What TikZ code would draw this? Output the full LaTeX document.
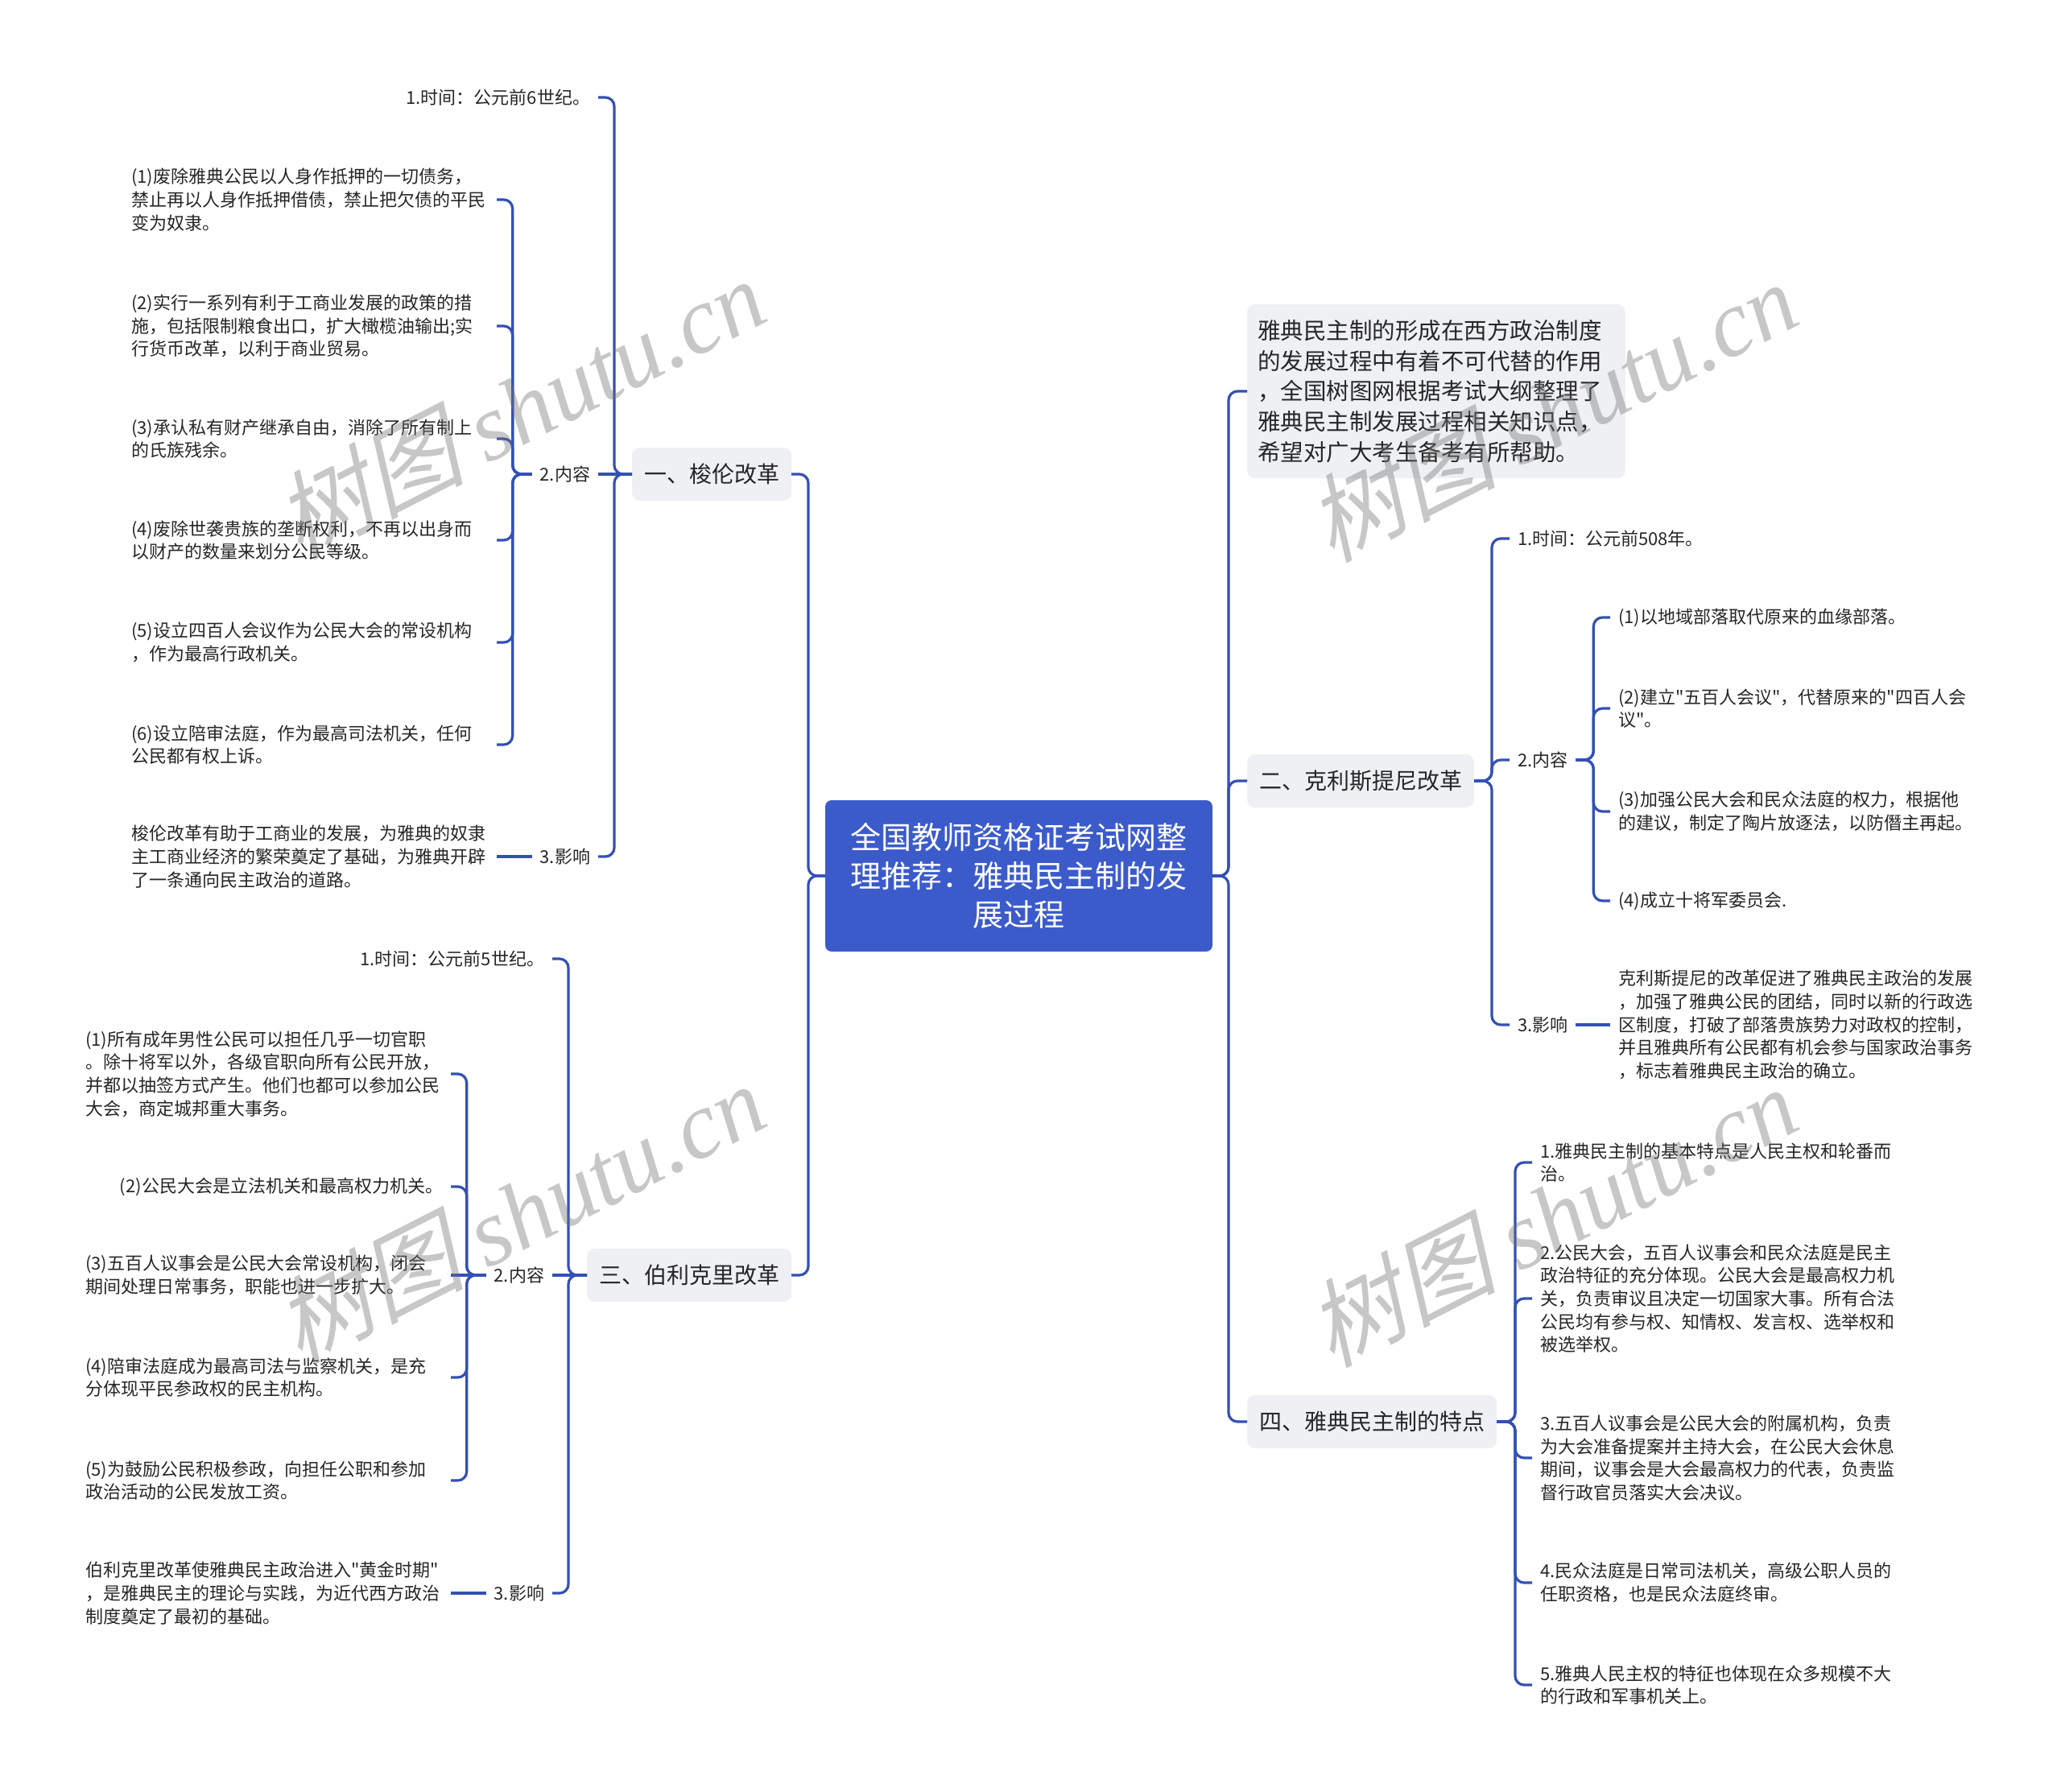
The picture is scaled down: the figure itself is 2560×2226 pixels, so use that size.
\documentclass[tikz,border=0pt]{standalone}
\usepackage{fontspec}
\setmainfont{Noto Sans CJK SC}
\newfontfamily\cjk{Noto Sans CJK SC}
\newfontfamily\wmcjk[FakeSlant=0.25]{Noto Sans CJK SC}
\newfontfamily\wmlat{Liberation Serif}
\definecolor{linec}{HTML}{3350B5}
\definecolor{rootc}{HTML}{3C5BCB}
\definecolor{boxc}{HTML}{EEF0F4}
\definecolor{txtc}{HTML}{262626}
\tikzset{
  conn/.style={draw=linec, line width=3.2pt, rounded corners=11pt},
  conns/.style={draw=linec, line width=3.2pt},
  tx/.style={font=\cjk\fontsize{22}{28.6}\selectfont, text=txtc, inner xsep=10pt, inner ysep=2pt, outer sep=0pt},
  txl/.style={tx, text width=444pt, align=left},
  lone/.style={fill=boxc, rounded corners=10pt, font=\cjk\fontsize{28}{34}\selectfont, text=txtc, inner xsep=15pt, minimum height=66pt, outer sep=0pt},
  rootbox/.style={fill=rootc, rounded corners=8pt, text=white, font=\cjk\fontsize{38}{48}\selectfont, align=center, minimum width=481pt, minimum height=188pt, outer sep=0pt},
  introbox/.style={fill=boxc, rounded corners=10pt, font=\cjk\fontsize{28.5}{37.7}\selectfont, text=txtc, text width=444pt, align=left, inner xsep=13pt, minimum height=216pt, outer sep=0pt},
  wm/.style={text=black!55, opacity=0.4, font=\fontsize{118}{124}\selectfont}
}
\begin{document}
\begin{tikzpicture}[x=1pt, y=-1pt]
\useasboundingbox (0,0) rectangle (2560,2226);
\fill[white] (0,0) rectangle (2560,2226);

% root
\node[rootbox] (root) at (1265.5,1088) {全国教师资格证考试网整\\理推荐：雅典民主制的发\\展过程};

% level one
\node[lone, anchor=east] (s1) at (983,589) {一、梭伦改革};
\node[lone, anchor=east] (s3) at (983,1584) {三、伯利克里改革};
\node[introbox, anchor=west] (intro) at (1549,486) {雅典民主制的形成在西方政治制度\\的发展过程中有着不可代替的作用\\，全国树图网根据考试大纲整理了\\雅典民主制发展过程相关知识点，\\希望对广大考生备考有所帮助。};
\node[lone, anchor=west] (s2) at (1549,970) {二、克利斯提尼改革};
\node[lone, anchor=west] (s4) at (1549,1766) {四、雅典民主制的特点};

\draw[conn] (root.west) -- ++(-21,0) |- (s1.east);
\draw[conn] (root.west) -- ++(-21,0) |- (s3.east);
\draw[conn] (root.east) -- ++(20,0) |- (intro.west);
\draw[conn] (root.east) -- ++(20,0) |- (s2.west);
\draw[conn] (root.east) -- ++(20,0) |- (s4.west);

% ---------- section one
\node[tx, anchor=east] (a1) at (743,121) {1.时间：公元前6世纪。};
\node[tx, anchor=east] (a2) at (743,589) {2.内容};
\node[tx, anchor=east] (a3) at (743,1064) {3.影响};
\draw[conn] (s1.west) -- ++(-22,0) |- (a1.east);
\draw[conns] (s1.west) -- (a2.east);
\draw[conn] (s1.west) -- ++(-22,0) |- (a3.east);

\node[txl, anchor=east] (a21) at (617,248) {(1)废除雅典公民以人身作抵押的一切债务，\\禁止再以人身作抵押借债，禁止把欠债的平民\\变为奴隶。};
\node[txl, anchor=east] (a22) at (617,405) {(2)实行一系列有利于工商业发展的政策的措\\施，包括限制粮食出口，扩大橄榄油输出;实\\行货币改革，以利于商业贸易。};
\node[txl, anchor=east] (a23) at (617,545) {(3)承认私有财产继承自由，消除了所有制上\\的氏族残余。};
\node[txl, anchor=east] (a24) at (617,671) {(4)废除世袭贵族的垄断权利，不再以出身而\\以财产的数量来划分公民等级。};
\node[txl, anchor=east] (a25) at (617,798) {(5)设立四百人会议作为公民大会的常设机构\\，作为最高行政机关。};
\node[txl, anchor=east] (a26) at (617,925) {(6)设立陪审法庭，作为最高司法机关，任何\\公民都有权上诉。};
\foreach \k in {a21,a22,a23,a24,a25,a26}
  \draw[conn] (a2.west) -- ++(-24,0) |- (\k.east);
\node[txl, anchor=east] (a31) at (617,1064) {梭伦改革有助于工商业的发展，为雅典的奴隶\\主工商业经济的繁荣奠定了基础，为雅典开辟\\了一条通向民主政治的道路。};
\draw[conns] (a31.east) -- (a3.west);

% ---------- section three
\node[tx, anchor=east] (b1) at (686,1191) {1.时间：公元前5世纪。};
\node[tx, anchor=east] (b2) at (686,1584) {2.内容};
\node[tx, anchor=east] (b3) at (686,1979) {3.影响};
\draw[conn] (s3.west) -- ++(-23,0) |- (b1.east);
\draw[conns] (s3.west) -- (b2.east);
\draw[conn] (s3.west) -- ++(-23,0) |- (b3.east);

\node[txl, anchor=east] (b21) at (560,1334) {(1)所有成年男性公民可以担任几乎一切官职\\。除十将军以外，各级官职向所有公民开放，\\并都以抽签方式产生。他们也都可以参加公民\\大会，商定城邦重大事务。};
\node[tx, anchor=east] (b22) at (560,1474) {(2)公民大会是立法机关和最高权力机关。};
\node[txl, anchor=east] (b23) at (560,1584) {(3)五百人议事会是公民大会常设机构，闭会\\期间处理日常事务，职能也进一步扩大。};
\node[txl, anchor=east] (b24) at (560,1711) {(4)陪审法庭成为最高司法与监察机关，是充\\分体现平民参政权的民主机构。};
\node[txl, anchor=east] (b25) at (560,1839) {(5)为鼓励公民积极参政，向担任公职和参加\\政治活动的公民发放工资。};
\draw[conn] (b2.west) -- ++(-24,0) |- (b21.east);
\draw[conn] (b2.west) -- ++(-24,0) |- (b22.east);
\draw[conns] (b2.west) -- (b23.east);
\draw[conn] (b2.west) -- ++(-24,0) |- (b24.east);
\draw[conn] (b2.west) -- ++(-24,0) |- (b25.east);
\node[txl, anchor=east] (b31) at (560,1979) {伯利克里改革使雅典民主政治进入"黄金时期"\\，是雅典民主的理论与实践，为近代西方政治\\制度奠定了最初的基础。};
\draw[conns] (b31.east) -- (b3.west);

% ---------- section two
\node[tx, anchor=west] (c1) at (1875,669) {1.时间：公元前508年。};
\node[tx, anchor=west] (c2) at (1875,944) {2.内容};
\node[tx, anchor=west] (c3) at (1875,1273) {3.影响};
\draw[conn] (s2.east) -- ++(22,0) |- (c1.west);
\draw[conn] (s2.east) -- ++(22,0) |- (c2.west);
\draw[conn] (s2.east) -- ++(22,0) |- (c3.west);

\node[txl, anchor=west] (c21) at (2000,767) {(1)以地域部落取代原来的血缘部落。};
\node[txl, anchor=west] (c22) at (2000,880) {(2)建立"五百人会议"，代替原来的"四百人会\\议"。};
\node[txl, anchor=west] (c23) at (2000,1008) {(3)加强公民大会和民众法庭的权力，根据他\\的建议，制定了陶片放逐法，以防僭主再起。};
\node[txl, anchor=west] (c24) at (2000,1119) {(4)成立十将军委员会.};
\foreach \k in {c21,c22,c23,c24}
  \draw[conn] (c2.east) -- ++(22,0) |- (\k.west);
\node[txl, anchor=west] (c31) at (2000,1273) {克利斯提尼的改革促进了雅典民主政治的发展\\，加强了雅典公民的团结，同时以新的行政选\\区制度，打破了部落贵族势力对政权的控制，\\并且雅典所有公民都有机会参与国家政治事务\\，标志着雅典民主政治的确立。};
\draw[conns] (c3.east) -- (c31.west);

% ---------- section four
\node[txl, anchor=west] (d1) at (1903,1444) {1.雅典民主制的基本特点是人民主权和轮番而\\治。};
\node[txl, anchor=west] (d2) at (1903,1613) {2.公民大会，五百人议事会和民众法庭是民主\\政治特征的充分体现。公民大会是最高权力机\\关，负责审议且决定一切国家大事。所有合法\\公民均有参与权、知情权、发言权、选举权和\\被选举权。};
\node[txl, anchor=west] (d3) at (1903,1811) {3.五百人议事会是公民大会的附属机构，负责\\为大会准备提案并主持大会，在公民大会休息\\期间，议事会是大会最高权力的代表，负责监\\督行政官员落实大会决议。};
\node[txl, anchor=west] (d4) at (1903,1966) {4.民众法庭是日常司法机关，高级公职人员的\\任职资格，也是民众法庭终审。};
\node[txl, anchor=west] (d5) at (1903,2093) {5.雅典人民主权的特征也体现在众多规模不大\\的行政和军事机关上。};
\foreach \k in {d1,d2,d3,d4,d5}
  \draw[conn] (s4.east) -- ++(23,0) |- (\k.west);

% ---------- watermarks
\node[wm, rotate=27] (w1) at (645,506) {{\wmcjk 树图}\ {\wmlat\itshape shutu.cn}};
\node[wm, rotate=27] (w2) at (645,1506) {{\wmcjk 树图}\ {\wmlat\itshape shutu.cn}};
\node[wm, rotate=27] (w3) at (1927,510) {{\wmcjk 树图}\ {\wmlat\itshape shutu.cn}};
\node[wm, rotate=27] (w4) at (1927,1510) {{\wmcjk 树图}\ {\wmlat\itshape shutu.cn}};
\end{tikzpicture}
\end{document}
